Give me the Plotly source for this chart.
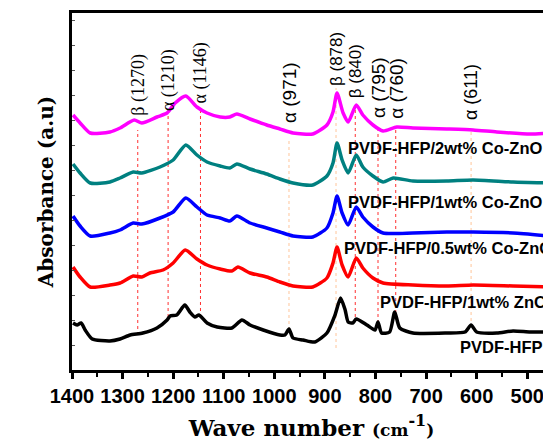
import plotly.graph_objects as go

# ---------------- data ----------------
wn_pvdf = [1398, 1390, 1382, 1374, 1360, 1325, 1305, 1285, 1260, 1232, 1212, 1206, 1193, 1177,
           1167, 1157, 1149, 1133, 1113, 1084, 1064, 1048, 1022, 989, 979, 971, 963, 943, 920,
           896, 880, 869, 860, 854, 845, 838, 817, 801, 795, 788, 772, 762, 752, 726, 659, 623,
           611, 600, 560, 528, 494, 455]
abs_pvdf = [0.47, 0.45, 0.47, 0.40, 0.31, 0.29, 0.31, 0.35, 0.37, 0.42, 0.50, 0.54, 0.55, 0.65,
            0.58, 0.53, 0.55, 0.47, 0.43, 0.42, 0.50, 0.45, 0.40, 0.35, 0.35, 0.41, 0.32, 0.30, 0.28,
            0.37, 0.55, 0.72, 0.60, 0.48, 0.47, 0.51, 0.45, 0.40, 0.48, 0.37, 0.38, 0.58, 0.42, 0.37,
            0.37, 0.38, 0.45, 0.38, 0.37, 0.39, 0.38, 0.38]

wn_zno = [1398, 1384, 1364, 1325, 1305, 1279, 1262, 1246, 1220, 1200, 1176, 1153, 1133, 1107, 1084,
          1072, 1048, 1015, 989, 963, 924, 896, 884, 876, 866, 854, 838, 825, 805, 785, 726, 659,
          607, 528, 455]
abs_zno = [1.03, 0.93, 0.83, 0.85, 0.87, 0.94, 0.93, 0.97, 1.00, 1.07, 1.20, 1.11, 1.05, 1.01, 0.99,
           1.03, 0.97, 0.93, 0.88, 0.84, 0.83, 0.92, 1.07, 1.23, 1.05, 0.93, 1.12, 1.02, 0.92, 0.87,
           0.85, 0.84, 0.85, 0.84, 0.83]

wn_co05 = [1398, 1384, 1364, 1325, 1305, 1279, 1262, 1226, 1200, 1175, 1153, 1133, 1107, 1088, 1074,
           1048, 1015, 989, 963, 924, 896, 884, 876, 866, 854, 838, 825, 805, 785, 726, 659, 607,
           528, 455]
abs_co05 = [1.54, 1.44, 1.34, 1.37, 1.40, 1.47, 1.46, 1.52, 1.58, 1.72, 1.63, 1.55, 1.52, 1.49, 1.54,
            1.47, 1.42, 1.38, 1.34, 1.33, 1.42, 1.57, 1.74, 1.57, 1.45, 1.63, 1.53, 1.43, 1.37, 1.37,
            1.38, 1.38, 1.37, 1.34]

wn_co1 = [1398, 1384, 1364, 1325, 1305, 1279, 1262, 1226, 1200, 1175, 1153, 1133, 1107, 1088, 1074,
          1048, 1015, 989, 963, 924, 896, 884, 876, 866, 854, 838, 825, 805, 785, 765, 726, 659,
          607, 528, 455]
abs_co1 = [2.06, 1.97, 1.87, 1.88, 1.92, 1.98, 1.97, 2.03, 2.10, 2.25, 2.15, 2.08, 2.04, 2.02, 2.06,
           2.01, 1.96, 1.91, 1.87, 1.85, 1.94, 2.07, 2.27, 2.10, 1.97, 2.15, 2.03, 1.94, 1.88, 1.92,
           1.89, 1.89, 1.90, 1.88, 1.87]

wn_co2 = [1398, 1384, 1364, 1325, 1305, 1277, 1262, 1232, 1212, 1196, 1175, 1153, 1133, 1107, 1088,
          1074, 1048, 1015, 989, 963, 924, 896, 884, 876, 864, 854, 838, 825, 805, 785, 758, 726,
          659, 607, 560, 494, 455]
abs_co2 = [2.55, 2.47, 2.37, 2.38, 2.42, 2.50, 2.47, 2.53, 2.57, 2.67, 2.74, 2.63, 2.57, 2.53, 2.53,
           2.56, 2.51, 2.45, 2.41, 2.37, 2.36, 2.45, 2.58, 2.77, 2.57, 2.48, 2.65, 2.55, 2.45, 2.39,
           2.43, 2.42, 2.41, 2.40, 2.38, 2.36, 2.37]

series_names = ["PVDF-HFP", "PVDF-HFP/1wt% ZnO", "PVDF-HFP/0.5wt% Co-ZnO",
                "PVDF-HFP/1wt% Co-ZnO", "PVDF-HFP/2wt% Co-ZnO"]
series_x = [wn_pvdf, wn_zno, wn_co05, wn_co1, wn_co2]
series_y = [abs_pvdf, abs_zno, abs_co05, abs_co1, abs_co2]
series_colors = ["#000000", "#ff0000", "#0000ff", "#008080", "#ff00ff"]

# sample label anchor (left edge wavenumber, absorbance)
label_wn = [637, 795, 866, 858, 858]
label_abs = [0.23, 0.68, 1.22, 1.68, 2.22]

# peak assignments
peak_wn = [1270, 1210, 1146, 971, 878, 840, 795, 760, 611]
peak_text = ["β (1270)", "α (1210)", "α (1146)", "α (971)", "β (878)", "β (840)",
             "α (795)", "α (760)", "α (611)"]
peak_label_abs = [2.85, 2.90, 2.97, 2.78, 3.11, 2.99, 2.82, 2.82, 2.78]
peak_line_top = [2.40, 2.57, 2.63, 2.30, 2.82, 2.63, 2.40, 2.42, 2.40]
peak_line_bottom = [0.35, 0.53, 0.53, 0.40, 0.22, 0.53, 0.47, 0.57, 0.43]
peak_line_color = ["#ff3030", "#ff3030", "#ff3030", "#ffc59a", "#ffc59a", "#ff3030",
                   "#ff3030", "#ff3030", "#ffc59a"]
peak_font = ["Liberation Serif", "Liberation Serif", "Liberation Serif", "Liberation Sans",
             "Liberation Sans", "Liberation Sans", "Liberation Sans", "Liberation Sans",
             "Liberation Sans"]
peak_size = [18, 18, 18, 19, 17, 17, 19, 19, 18]

x_ticks = [1400, 1300, 1200, 1100, 1000, 900, 800, 700, 600, 500]

# ---------------- figure ----------------
fig = go.Figure()

for i in range(len(peak_wn)):
    fig.add_shape(type="line", x0=peak_wn[i], x1=peak_wn[i],
                  y0=peak_line_bottom[i], y1=peak_line_top[i],
                  xref="x", yref="y", layer="below",
                  line=dict(color=peak_line_color[i], width=1, dash="dot"))

for name, xs, ys, col in zip(series_names, series_x, series_y, series_colors):
    fig.add_trace(go.Scatter(x=xs, y=ys, mode="lines", name=name,
                             line=dict(color=col, width=3.5, shape="spline", smoothing=0.6)))

for name, lx, ly in zip(series_names, label_wn, label_abs):
    fig.add_annotation(x=lx, y=ly, xref="x", yref="y", text=name, showarrow=False,
                       xanchor="left", yanchor="middle",
                       font=dict(family="Liberation Sans, Arial", size=16.5, color="black",
                                 weight="bold"))

for i in range(len(peak_wn)):
    fig.add_annotation(x=peak_wn[i], y=peak_label_abs[i], xref="x", yref="y",
                       text=peak_text[i], showarrow=False, textangle=-90,
                       xanchor="center", yanchor="middle",
                       font=dict(family=peak_font[i], size=peak_size[i], color="black"))

# the page body adds an 8 px margin, so the figure is 8 px smaller than the window
fig.update_layout(
    width=543, height=439,
    margin=dict(l=64, r=0, t=5, b=77),
    paper_bgcolor="white", plot_bgcolor="white",
    showlegend=False,
    xaxis=dict(
        range=[1400, 453], tickmode="array", tickvals=x_ticks,
        ticktext=[str(v) for v in x_ticks],
        showline=True, linecolor="black", linewidth=3, mirror=True,
        ticks="outside", ticklen=6, tickwidth=3, tickcolor="black",
        minor=dict(ticks="outside", ticklen=4, tickwidth=2, tickcolor="black", dtick=50,
                   tick0=1400),
        showgrid=False, zeroline=False,
        tickfont=dict(family="Liberation Sans, Arial", size=20, color="black", weight="bold"),
        title=dict(text="Wave number <span style='font-size:17px'>(cm</span><sup>-1</sup>"
                        "<span style='font-size:17px'>)</span>",
                   font=dict(family="DejaVu Serif", size=23, color="black", weight="bold"),
                   standoff=14),
        automargin=False,
    ),
    yaxis=dict(
        range=[0, 3.57], showline=True, linecolor="black", linewidth=3,
        showticklabels=False, ticks="inside", ticklen=3, tickwidth=1, dtick=0.25,
        tickcolor="#555555",
        showgrid=False, zeroline=False,
        title=dict(text="Absorbance (a.u)",
                   font=dict(family="DejaVu Serif", size=20, color="black", weight="bold"),
                   standoff=11),
        automargin=False,
    ),
)

fig.write_html("out.html")
